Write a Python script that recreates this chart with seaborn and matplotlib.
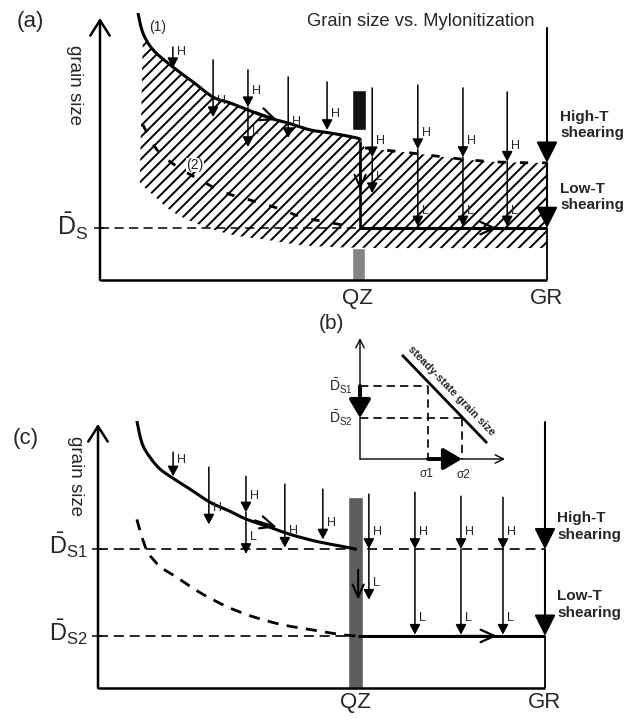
import numpy as np
import pandas as pd
import matplotlib
matplotlib.use("Agg")
import matplotlib.pyplot as plt
from matplotlib.path import Path
from matplotlib.patches import PathPatch
import seaborn as sns

# ---------------- DATA (schematic units) ----------------
# x: degree of mylonitization (0 ... 100 = GR), y: grain size (0 ... 100)
QZ_X = 58.2
GR_X = 100.0
ds_a = 19.8     # steady-state grain size, panel (a)
ds1_c = 52.7    # high-T steady-state grain size, panel (c)
ds2_c = 19.8    # low-T steady-state grain size, panel (c)

# panel (a)
a_curve1_x = [8.5, 9.6, 11.9, 16.3, 20.8, 25.3, 29.1, 33.1, 38.0, 42.1, 47.0, 51.5, 57.5, 58.2]
a_curve1_y = [101.9, 94.3, 87.8, 81.3, 75.6, 69.8, 67.6, 64.9, 61.8, 59.9, 57.3, 56.1, 54.2, 53.1]
a_curve2_x = [9.6, 12.8, 17.4, 22.4, 27.5, 33.6, 39.6, 45.2, 50.8, 57.0]
a_curve2_y = [59.2, 49.6, 43.1, 38.2, 33.6, 30.5, 27.5, 24.0, 22.1, 20.2]
a_upper_x = [59.3, 71.6, 80.5, 89.5, 100.0]
a_upper_y = [50.4, 48.1, 46.2, 45.0, 44.7]
a_lower_x = [8.9, 11.9, 16.3, 22.4, 29.8, 37.4, 44.7, 52.1, 62.6, 100.0]
a_lower_y = [37.0, 32.4, 26.0, 21.0, 17.2, 15.3, 13.4, 12.6, 12.2, 12.2]
a_arrow_x = [16.3, 25.3, 33.1, 42.1, 50.8, 60.9, 71.1, 81.2, 91.1]
a_arrow_top = [88.9, 84.0, 80.2, 77.5, 75.6, 73.3, 74.4, 73.3, 71.8]
a_arrow_h = [80.9, 62.2, 66.0, 54.2, 57.3, 46.9, 50.0, 47.0, 45.2]
a_arrow_l = [None, None, 50.8, None, None, 33.2, 20.5, 20.5, 20.5]
a_gr = [96.2, 44.7, 19.8]
a_bar_dark = [57.3, 72.5]   # bottom, top
a_bar_gray = [0.0, 12.2]

# panel (c)
c_curve1_x = [8.7, 10.1, 13.2, 16.1, 20.6, 25.1, 29.5, 33.3, 38.5, 43.0, 49.0, 54.8, 57.9]
c_curve1_y = [101.5, 92.0, 84.4, 80.5, 75.6, 70.6, 67.2, 64.1, 61.1, 58.4, 55.7, 53.8, 52.7]
c_curve2_x = [8.7, 9.8, 11.2, 13.9, 17.7, 22.8, 28.9, 34.7, 41.4, 49.0, 54.8, 57.9]
c_curve2_y = [64.1, 57.6, 51.5, 46.2, 42.0, 36.3, 30.9, 27.1, 24.0, 21.8, 20.2, 19.8]
c_arrow_x = [16.8, 24.8, 33.1, 41.8, 50.3, 60.6, 70.9, 81.2, 90.6]
c_arrow_top = [89.7, 84.0, 80.5, 77.5, 75.6, 73.7, 74.4, 72.9, 72.5]
c_arrow_h = [80.5, 62.2, 66.8, 53.4, 56.5, 52.9, 52.9, 52.9, 52.9]
c_arrow_l = [None, None, 51.0, None, None, 33.6, 20.3, 20.3, 20.3]
c_gr = [101.1, 52.7, 19.8]
c_bar_gray = [0.0, 72.5]

# panel (b): stress vs steady-state grain size
b_sigma = [4.69, 7.03]
b_ds = [6.03, 3.39]
b_line_sigma = [2.9, 8.76]
b_line_ds = [8.6, 1.32]

# ---------------- STYLE ----------------
sns.set_theme(style="white")
plt.rcParams['font.family'] = ['Liberation Sans', 'DejaVu Sans']
plt.rcParams['mathtext.fontset'] = 'custom'
plt.rcParams['mathtext.rm'] = 'Liberation Sans'
plt.rcParams['mathtext.it'] = 'Liberation Sans:italic'
plt.rcParams['mathtext.bf'] = 'Liberation Sans:bold'
plt.rcParams['hatch.linewidth'] = 1.4

W, H = 639, 718
fig = plt.figure(figsize=(W / 100, H / 100), dpi=100)
fig.patch.set_facecolor('white')


def add_ax(l, t, r, b):
    return fig.add_axes([l / W, 1 - b / H, (r - l) / W, (b - t) / H])


def arrow(ax, x0, y0, x1, y1, hl=0.6, hw=0.32, lw=1.1, style='-|>', ms=10, color='black', z=5):
    ax.annotate('', xy=(x1, y1), xytext=(x0, y0), annotation_clip=False,
                arrowprops=dict(arrowstyle=f'{style},head_length={hl},head_width={hw}',
                                lw=lw, color=color, shrinkA=0, shrinkB=0,
                                mutation_scale=ms), zorder=z)


def line(ax, xs, ys, lw=2.0, ls='-', z=4, color='black'):
    sns.lineplot(x=xs, y=ys, ax=ax, color=color, lw=lw, linestyle=ls,
                 sort=False, estimator=None, legend=False)
    ln = ax.lines[-1]
    ln.set_clip_on(False)
    ln.set_zorder(z)
    ln.set_solid_capstyle('butt')
    ln.set_dash_capstyle('butt')


def bezier_through(xs, ys):
    """Smooth (Catmull-Rom) cubic segments passing through the read points."""
    P = np.column_stack([xs, ys]).astype(float)
    n = len(P)
    verts, codes = [], []
    for i in range(n - 1):
        p0 = P[i - 1] if i > 0 else P[i]
        p1, p2 = P[i], P[i + 1]
        p3 = P[i + 2] if i + 2 < n else P[i + 1]
        verts += [p1 + (p2 - p0) / 6, p2 - (p3 - p1) / 6, p2]
        codes += [Path.CURVE4] * 3
    return verts, codes


def smooth(ax, xs, ys, lw=2.2, ls='-', z=4):
    v, c = bezier_through(xs, ys)
    path = Path([(xs[0], ys[0])] + v, [Path.MOVETO] + c)
    ax.add_patch(PathPatch(path, fill=False, lw=lw, ls=ls, edgecolor='black',
                           capstyle='butt', clip_on=False, zorder=z))


def panel_arrows(ax, xs, tops, hs, ls, dy):
    for x, t, h, l in zip(xs, tops, hs, ls):
        arrow(ax, x, t, x, h)
        ax.text(x + 0.9, h + dy, 'H', fontsize=9, ha='left', va='center', zorder=6)
        if l is not None:
            arrow(ax, x, h, x, l)
            ax.text(x + 0.9, l + dy, 'L', fontsize=9, ha='left', va='center', zorder=6)


def axes_frame(ax, ytop):
    arrow(ax, 0, 0, 0, ytop, hl=1.1, hw=0.7, lw=1.8, style='->', z=6)
    line(ax, [0, GR_X], [0, 0], lw=1.8, z=6)


# ---------------- PANEL (a) ----------------
ax_a = add_ax(100, 18, 547, 280)
ax_a.set_xlim(0, 100)
ax_a.set_ylim(0, 100)
ax_a.axis('off')

# hatched band
v1, c1 = bezier_through(a_curve1_x[1:], a_curve1_y[1:])
vu, cu = bezier_through(a_upper_x, a_upper_y)
vl, cl = bezier_through(a_lower_x[::-1], a_lower_y[::-1])
verts = ([(a_lower_x[0], a_lower_y[0]), (a_curve1_x[1], a_curve1_y[1])] + v1 +
         [(a_upper_x[0], a_upper_y[0])] + vu +
         [(a_lower_x[-1], a_lower_y[-1])] + vl + [(0, 0)])
codes = ([Path.MOVETO, Path.LINETO] + c1 + [Path.LINETO] + cu + [Path.LINETO] + cl +
         [Path.CLOSEPOLY])
ax_a.add_patch(PathPatch(Path(verts, codes), facecolor='none', edgecolor='black',
                         hatch='///', linewidth=0, zorder=1))

ax_a.bar([QZ_X - 0.3], [a_bar_dark[1] - a_bar_dark[0]], bottom=a_bar_dark[0], width=3.1,
         color='#111111', zorder=3)
ax_a.bar([QZ_X - 0.4], [a_bar_gray[1] - a_bar_gray[0]], bottom=a_bar_gray[0], width=2.9,
         color='#858585', zorder=3)

axes_frame(ax_a, 100)
line(ax_a, [0, GR_X], [ds_a, ds_a], lw=1.1, ls=(0, (6, 3.5)), z=3)
line(ax_a, [-1.3, 0.9], [ds_a, ds_a], lw=1.1, z=6)
smooth(ax_a, a_curve1_x, a_curve1_y, lw=2.2)
line(ax_a, [QZ_X, QZ_X], [a_curve1_y[-1], ds_a], lw=1.9)
line(ax_a, [QZ_X, GR_X], [ds_a, ds_a], lw=2.2)
smooth(ax_a, a_curve2_x, a_curve2_y, lw=2.0, ls=(0, (3, 5)))
smooth(ax_a, a_upper_x, a_upper_y, lw=2.0, ls=(0, (3, 5)))

panel_arrows(ax_a, a_arrow_x, a_arrow_top, a_arrow_h, a_arrow_l, 6.0)
arrow(ax_a, GR_X, a_gr[0], GR_X, a_gr[1], hl=1.3, hw=0.65, lw=1.5)
arrow(ax_a, GR_X, a_gr[1], GR_X, a_gr[2], hl=1.3, hw=0.65, lw=1.5)
line(ax_a, [GR_X, GR_X], [a_gr[2], 0], lw=1.3)
arrow(ax_a, 34.7, 64.1, 39.6, 61.1, hl=1.0, hw=0.45, lw=1.6, style='->')
arrow(ax_a, 80.0, ds_a, 88.8, ds_a, hl=1.0, hw=0.45, lw=1.6, style='->')
arrow(ax_a, QZ_X, 45.0, QZ_X, 34.4, hl=0.9, hw=0.4, lw=1.5, style='->')

ax_a.text(-15.7, 98.5, '(a)', fontsize=16, ha='center', va='center')
ax_a.text(-5.6, 74.4, 'grain size', fontsize=13.5, rotation=270, ha='center', va='center')
ax_a.text(71.8, 98.5, 'Grain size vs. Mylonitization', fontsize=13.2, ha='center', va='center')
ax_a.text(12.8, 96.6, '(1)', fontsize=10, ha='center', va='center')
ax_a.text(21.3, 43.9, '(2)', fontsize=10, ha='center', va='center', zorder=7,
          bbox=dict(facecolor='white', edgecolor='none', pad=0.3))
ax_a.text(-2.6, ds_a + 0.5, r'$\bar{\mathrm{D}}_{\mathrm{S}}$', fontsize=18, ha='right', va='center')
ax_a.text(QZ_X - 0.5, -7.2, 'QZ', fontsize=16, ha='center', va='center')
ax_a.text(GR_X, -7.2, 'GR', fontsize=16, ha='center', va='center')
ax_a.text(102.9, 59.2, 'High-T\nshearing', fontsize=11, fontweight='bold', ha='left',
          va='center', linespacing=1.25)
ax_a.text(102.9, 31.7, 'Low-T\nshearing', fontsize=11, fontweight='bold', ha='left',
          va='center', linespacing=1.25)

# ---------------- PANEL (b) ----------------
ax_b = add_ax(360, 338, 505, 459)
ax_b.set_xlim(0, 10)
ax_b.set_ylim(0, 10)
ax_b.axis('off')
arrow(ax_b, 0, 0, 0, 10, hl=0.6, hw=0.3, lw=1.0, style='->')
arrow(ax_b, 0, 0, 10, 0, hl=0.6, hw=0.3, lw=1.0, style='->')
for s, d in zip(b_sigma, b_ds):
    line(ax_b, [0, s], [d, d], lw=1.2, ls=(0, (5, 3)), z=3)
    line(ax_b, [s, s], [d, 0], lw=1.2, ls=(0, (5, 3)), z=3)
line(ax_b, b_line_sigma, b_line_ds, lw=2.0)
arrow(ax_b, 0, b_ds[0], 0, b_ds[1], hl=1.1, hw=0.65, lw=2.8)
arrow(ax_b, b_sigma[0], 0, b_sigma[1], 0, hl=1.1, hw=0.65, lw=2.8)
ax_b.text(-2.0, 11.2, '(b)', fontsize=15, ha='center', va='center')
ax_b.text(-0.5, b_ds[0], r'$\bar{\mathrm{D}}_{\mathrm{S1}}$', fontsize=10, ha='right', va='center')
ax_b.text(-0.5, b_ds[1], r'$\bar{\mathrm{D}}_{\mathrm{S2}}$', fontsize=10, ha='right', va='center')
ax_b.text(b_sigma[0] - 0.1, -1.2, 'σ1', fontsize=8.5, ha='center', va='center')
ax_b.text(b_sigma[1] + 0.1, -1.3, 'σ2', fontsize=8.5, ha='center', va='center')
ax_b.text(6.3, 5.6, 'steady-state grain size', fontsize=8, fontweight='bold',
          rotation=-46, ha='center', va='center', rotation_mode='anchor')

# ---------------- PANEL (c) ----------------
ax_c = add_ax(98, 425, 545, 688)
ax_c.set_xlim(0, 100)
ax_c.set_ylim(0, 100)
ax_c.axis('off')

ax_c.bar([QZ_X - 0.6], [c_bar_gray[1] - c_bar_gray[0]], bottom=c_bar_gray[0], width=3.4,
         color='#5e5e5e', zorder=3)
axes_frame(ax_c, 100.4)
line(ax_c, [0, GR_X], [ds1_c, ds1_c], lw=1.2, ls=(0, (6, 3.5)), z=2)
line(ax_c, [0, QZ_X], [ds2_c, ds2_c], lw=1.2, ls=(0, (6, 3.5)), z=2)
line(ax_c, [-1.3, 0.9], [ds1_c, ds1_c], lw=1.1, z=6)
line(ax_c, [-1.3, 0.9], [ds2_c, ds2_c], lw=1.1, z=6)
smooth(ax_c, c_curve1_x, c_curve1_y, lw=2.2)
smooth(ax_c, c_curve2_x, c_curve2_y, lw=2.0, ls=(0, (4, 3)))
line(ax_c, [QZ_X, GR_X], [ds2_c, ds2_c], lw=2.2)

panel_arrows(ax_c, c_arrow_x, c_arrow_top, c_arrow_h, c_arrow_l, 6.3)
arrow(ax_c, GR_X, c_gr[0], GR_X, c_gr[1], hl=1.3, hw=0.65, lw=1.5)
arrow(ax_c, GR_X, c_gr[1], GR_X, c_gr[2], hl=1.3, hw=0.65, lw=1.5)
line(ax_c, [GR_X, GR_X], [c_gr[2], 0], lw=1.3)
arrow(ax_c, 35.1, 63.7, 40.0, 61.1, hl=1.0, hw=0.45, lw=1.6, style='->')
arrow(ax_c, 80.0, ds2_c, 89.3, ds2_c, hl=1.0, hw=0.45, lw=1.6, style='->')
arrow(ax_c, QZ_X, 45.0, QZ_X, 33.6, hl=0.9, hw=0.4, lw=1.5, style='->')

ax_c.text(-16.1, 94.7, '(c)', fontsize=16, ha='center', va='center')
ax_c.text(-5.1, 80.5, 'grain size', fontsize=13.5, rotation=270, ha='center', va='center')
ax_c.text(-2.2, ds1_c + 1.5, r'$\bar{\mathrm{D}}_{\mathrm{S1}}$', fontsize=17, ha='right', va='center')
ax_c.text(-2.2, ds2_c + 1.5, r'$\bar{\mathrm{D}}_{\mathrm{S2}}$', fontsize=17, ha='right', va='center')
ax_c.text(QZ_X - 0.5, -5.7, 'QZ', fontsize=16, ha='center', va='center')
ax_c.text(GR_X, -5.7, 'GR', fontsize=16, ha='center', va='center')
ax_c.text(102.7, 61.5, 'High-T\nshearing', fontsize=11, fontweight='bold', ha='left',
          va='center', linespacing=1.25)
ax_c.text(102.7, 31.7, 'Low-T\nshearing', fontsize=11, fontweight='bold', ha='left',
          va='center', linespacing=1.25)

fig.savefig('out.png', dpi=100, facecolor='white')
